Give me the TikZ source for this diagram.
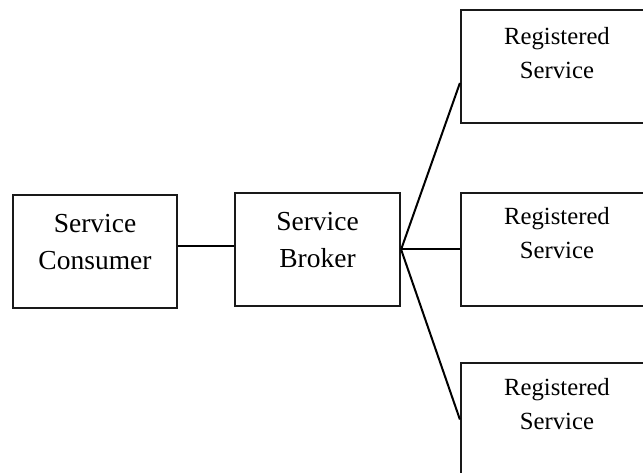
\documentclass[tikz,border=0pt]{standalone}
\usepackage{fontspec}
\setmainfont{Liberation Serif}
\begin{document}
\begin{tikzpicture}[x=1pt,y=-1pt,
  box/.style={draw=black!90,line width=2.2pt,rectangle,inner sep=0pt,
    minimum width=#1,minimum height=113pt},
  box/.default=164pt,
  bigtext/.style={align=center,inner sep=0pt,font=\fontsize{27.5}{37}\selectfont},
  smalltext/.style={align=center,inner sep=0pt,font=\fontsize{24.7}{34}\selectfont},
  link/.style={draw=black,line width=2pt}]
\useasboundingbox (0,0) rectangle (643,473);
\begin{scope}
\clip (0,0) rectangle (643,473);
% boxes
\node[box=164pt] (consumer) at (95,251.5) {};
\node[box=165pt] (broker) at (317.5,249.5) {};
\node[box=192pt] (reg1) at (557,66.5) {};
\node[box=192pt] (reg2) at (557,249.5) {};
\node[box=192pt] (reg3) at (557,419.5) {};
% labels
\node[bigtext] (consumer-text) at ([yshift=9pt]consumer.center) {Service\\Consumer};
\node[bigtext] (broker-text) at ([yshift=9pt]broker.center) {Service\\Broker};
\node[smalltext] (reg1-text) at ([yshift=13pt]reg1.center) {Registered\\Service};
\node[smalltext] (reg2-text) at ([yshift=16pt]reg2.center) {Registered\\Service};
\node[smalltext] (reg3-text) at ([yshift=15.5pt]reg3.center) {Registered\\Service};
% connectors
\draw[link] ([yshift=5.5pt]consumer.east) -- ([yshift=3.5pt]broker.west);
\draw[link] (broker.east) -- ([yshift=-16.5pt]reg1.west);
\draw[link] (broker.east) -- (reg2.west);
\draw[link] (broker.east) -- (reg3.west);
\end{scope}
\end{tikzpicture}
\end{document}
